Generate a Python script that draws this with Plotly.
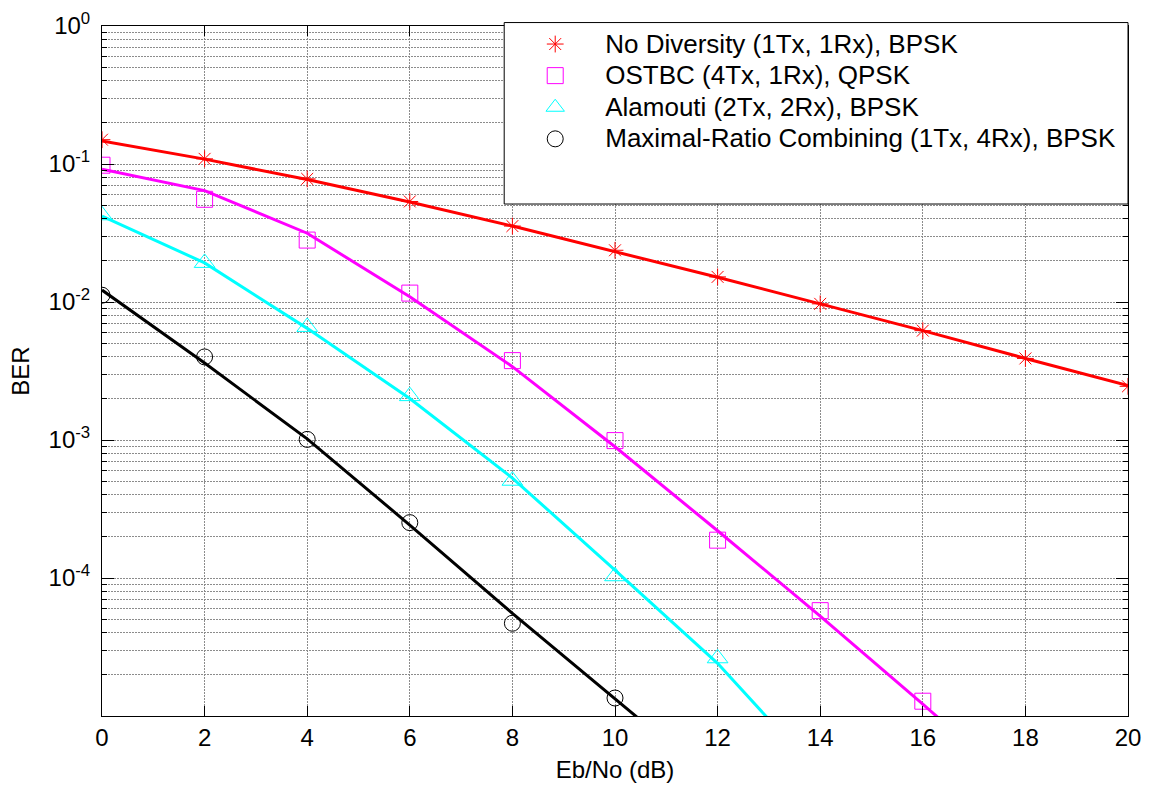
import plotly.graph_objects as go

ebno_markers = [0, 2, 4, 6, 8, 10, 12, 14, 16, 18, 20]

# Simulated BER (markers)
ber_nodiv_sim = [0.150, 0.109, 0.078, 0.0535, 0.0355, 0.0237, 0.0152, 0.0097, 0.0062, 0.0039, 0.00245]
ber_ostbc_sim = [0.098, 0.0555, 0.0281, 0.0116, 0.00376, 0.00099, 0.000188, 5.8e-5, 1.28e-5]
ber_alam_sim = [0.0425, 0.0192, 0.0066, 0.00208, 0.000507, 0.000103, 2.62e-5]
ber_mrc_sim = [0.0112, 0.0040, 0.00101, 0.000252, 4.7e-5, 1.35e-5]

# Theoretical BER (lines)
ebno_nodiv_line = [0, 2, 4, 6, 8, 10, 12, 14, 16, 18, 20]
ber_nodiv_line = [0.147, 0.1085, 0.0771, 0.053, 0.0355, 0.0233, 0.0151, 0.0097, 0.0062, 0.0039, 0.00248]
ebno_ostbc_line = [0, 2, 4, 6, 8, 10, 12, 14, 16, 18]
ber_ostbc_line = [0.0915, 0.0641, 0.0315, 0.0109, 0.0034, 0.000894, 0.00022, 5.3e-5, 1.22e-5, 2.7e-6]
ebno_alam_line = [0, 2, 4, 6, 8, 10, 12, 14]
ber_alam_line = [0.042, 0.0192, 0.00644, 0.0020, 0.00053, 0.000114, 2.41e-5, 3.7e-6]
ebno_mrc_line = [0, 2, 4, 6, 8, 10, 12]
ber_mrc_line = [0.0122, 0.00361, 0.00102, 0.000242, 5.55e-5, 1.35e-5, 3.2e-6]

names = ["No Diversity (1Tx, 1Rx), BPSK", "OSTBC (4Tx, 1Rx), QPSK",
         "Alamouti (2Tx, 2Rx), BPSK", "Maximal-Ratio Combining (1Tx, 4Rx), BPSK"]
colors = ["#ff0000", "#ff00ff", "#00ffff", "#000000"]
symbols = ["asterisk-open", "square-open", "triangle-up-open", "circle-open"]
sizes = [14, 16, 18, 16]

x_ticks = [0, 2, 4, 6, 8, 10, 12, 14, 16, 18, 20]
y_ticks = [1e-4, 1e-3, 1e-2, 1e-1, 1]
y_ticktext = ["10<sup>-4</sup>", "10<sup>-3</sup>", "10<sup>-2</sup>", "10<sup>-1</sup>", "10<sup>0</sup>"]
y_minor = [m * 10.0 ** e for e in range(-5, 0) for m in range(2, 10)]

sims = [ber_nodiv_sim, ber_ostbc_sim, ber_alam_sim, ber_mrc_sim]
lines = [(ebno_nodiv_line, ber_nodiv_line), (ebno_ostbc_line, ber_ostbc_line),
         (ebno_alam_line, ber_alam_line), (ebno_mrc_line, ber_mrc_line)]

fig = go.Figure()
for i in range(4):
    fig.add_trace(go.Scatter(
        x=ebno_markers[:len(sims[i])], y=sims[i], mode="markers",
        name="<span style='font-size:26px'>" + names[i] + "</span>",
        marker=dict(symbol=symbols[i], size=sizes[i], color=colors[i],
                    line=dict(width=1, color=colors[i])),
        cliponaxis=True))
for i in range(4):
    fig.add_trace(go.Scatter(
        x=lines[i][0], y=lines[i][1], mode="lines", showlegend=False,
        line=dict(color=colors[i], width=3)))

grid_col = "#8c8c8c"
font_family = "Arial, Liberation Sans, sans-serif"

fig.update_layout(
    width=1150, height=786,
    margin=dict(l=102, r=22, t=26, b=70),
    paper_bgcolor="white", plot_bgcolor="white",
    font=dict(family=font_family, size=22, color="black"),
    showlegend=True,
    legend=dict(x=0.393, xanchor="left", y=1.004, yanchor="top",
                bgcolor="rgba(0,0,0,0)", borderwidth=0,
                font=dict(size=22, family=font_family),
                itemwidth=90, tracegroupgap=0),
    shapes=[dict(type="rect", xref="paper", yref="paper",
                 x0=0.392, x1=1.0, y0=0.742, y1=1.005,
                 fillcolor="white", line=dict(color="black", width=1),
                 layer="above")],
)

fig.update_xaxes(
    range=[0, 20], tickvals=x_ticks, ticktext=[str(v) for v in x_ticks],
    showgrid=True, gridcolor=grid_col, gridwidth=1, griddash="2px,1px",
    ticks="inside", ticklen=10, tickcolor="black", tickwidth=1,
    showline=True, linecolor="black", linewidth=1, mirror="ticks",
    zeroline=False, tickfont=dict(size=24), automargin=False,
    title=dict(text="Eb/No (dB)", font=dict(size=24), standoff=11),
)
fig.update_yaxes(
    type="log", range=[-5, 0], tickvals=y_ticks, ticktext=y_ticktext,
    showgrid=True, gridcolor=grid_col, gridwidth=1, griddash="2px,1px",
    ticks="inside", ticklen=12, tickcolor="black", tickwidth=1,
    showline=True, linecolor="black", linewidth=1, mirror="ticks",
    zeroline=False, tickfont=dict(size=24), ticklabelstandoff=6, automargin=False,
    minor=dict(tickvals=y_minor, ticks="inside", ticklen=5, tickcolor="black",
               showgrid=True, gridcolor=grid_col, gridwidth=1, griddash="2px,1px"),
    title=dict(text="BER", font=dict(size=24), standoff=12),
)

fig.write_html("out.html")
